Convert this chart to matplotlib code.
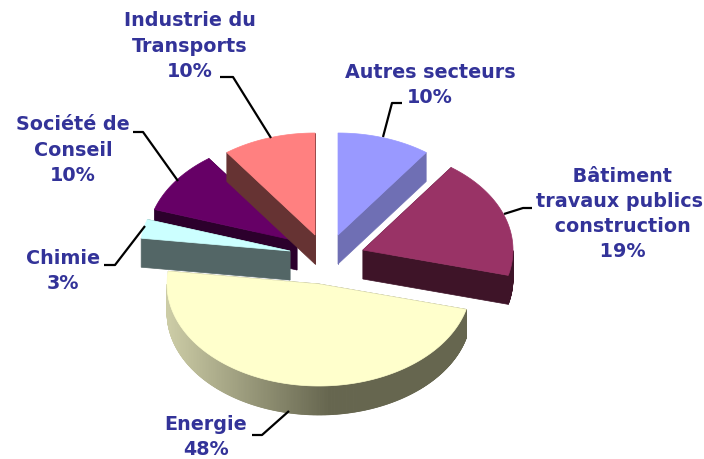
import numpy as np
import matplotlib
matplotlib.use("Agg")
import matplotlib.pyplot as plt
from matplotlib.patches import Polygon

# Slices, clockwise from 12 o'clock
labels = ["Autres secteurs\n10%", " Bâtiment\ntravaux publics\n construction\n 19%", "Energie\n48%",
          "Chimie\n3%", "Société de\nConseil\n10%", "Industrie du\nTransports\n10%"]
values = [10, 19, 48, 3, 10, 10]
top_colors = ["#9999FF", "#993366", "#FFFFCC", "#CCFFFF", "#660066", "#FF8080"]
side_colors = ["#6F6FB4", "#3E1428", "#66664F", "#536666", "#2C002C", "#663333"]

# Where each exploded slice has its tip, in image pixels
tips = [(338, 235), (363, 250), (319, 284), (290, 251), (297, 241), (315, 235)]
radii = [150, 150, 152, 150, 150, 150]
label_pos = [(430, 85), (619, 214), (206, 437), (63, 271), (73, 150), (190, 46)]
leaders = [[(383, 137), (392, 103), (402, 103)],
           [(504, 214), (523, 208), (532, 208)],
           [(289, 411), (262, 435), (252, 435)],
           [(145, 226), (115, 265), (104, 265)],
           [(178, 181), (143, 132), (133, 132)],
           [(271, 138), (233, 77), (220, 77)]]
ry, depth = 102, 29
draw_order = [4, 5, 0, 1, 2, 3]

fig = plt.figure(figsize=(7.04, 4.59), dpi=100)
ax = fig.add_axes([0, 0, 1, 1])
ax.set_xlim(0, 704)
ax.set_ylim(459, 0)
ax.axis("off")


def rim(tip, rx, a):
    # angle in degrees, clockwise from the top
    t = np.radians(a)
    return np.column_stack((tip[0] + rx * np.sin(t), tip[1] - ry * np.cos(t)))


def energie_shade(x):
    # the big slice goes from light on the left to dark past the middle
    f = np.clip((x - 168) / 160, 0, 1)
    a = np.array([0xCC, 0xCC, 0xA6])
    b = np.array([0x66, 0x66, 0x4F])
    return (a + (b - a) * f) / 255


edges = np.concatenate(([0], np.cumsum(values))) * 3.6
for i in draw_order:
    tip = tips[i]
    rx = radii[i]
    angles = np.linspace(edges[i], edges[i + 1], max(int(values[i] * 12), 8))
    arc = rim(tip, rx, angles)

    # radial walls, the ones facing away end up under the top face
    for a in (edges[i], edges[i + 1]):
        p = rim(tip, rx, np.array([a]))[0]
        wall = [tip, p, (p[0], p[1] + depth), (tip[0], tip[1] + depth)]
        ax.add_patch(Polygon(wall, fc=side_colors[i], ec=side_colors[i], lw=0.5))

    # outer wall, only the front half is visible
    front = angles[(angles >= 90) & (angles <= 270)]
    if len(front) > 1:
        pts = rim(tip, rx, front)
        for p, q in zip(pts[:-1], pts[1:]):
            c = energie_shade((p[0] + q[0]) / 2) if i == 2 else side_colors[i]
            quad = [p, q, (q[0], q[1] + depth), (p[0], p[1] + depth)]
            ax.add_patch(Polygon(quad, fc=c, ec=c, lw=0.5))

    ax.add_patch(Polygon(np.vstack(([tip], arc)), fc=top_colors[i], ec=top_colors[i], lw=0.5))

for line in leaders:
    xs, ys = zip(*line)
    ax.plot(xs, ys, color="black", lw=1.6, solid_capstyle="butt")

for text, (x, y) in zip(labels, label_pos):
    ax.text(x, y, text, ha="center", va="center", multialignment="center", color="#333399",
            fontsize=13.8, fontweight="bold", family="DejaVu Sans", linespacing=1.42)

fig.savefig("out.png", dpi=100)
